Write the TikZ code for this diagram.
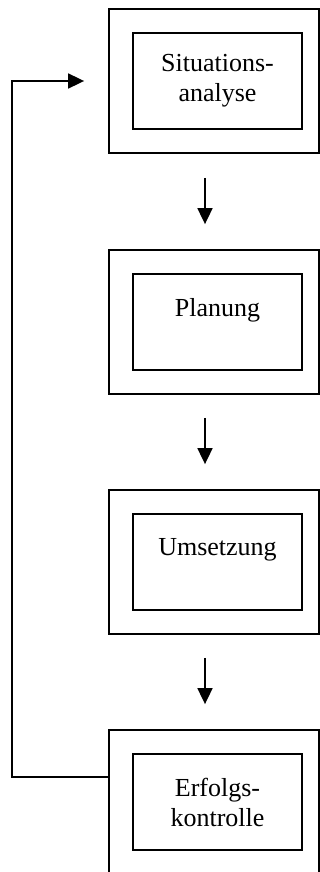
\documentclass[tikz,border=0pt]{standalone}
\usepackage{fontspec}
\setmainfont{Liberation Serif}
\usepackage{tikz}
\usetikzlibrary{
    arrows.meta,
    positioning,
    calc,
}

\begin{document}
\begin{tikzpicture}[
    x=1pt, y=-1pt,
    >={Triangle[length=16pt, width=15pt]},
    outerbox/.style = {rectangle, draw, line width=1.8pt,
                       minimum width=210pt, minimum height=144pt,
                       inner sep=0pt},
    innerbox/.style = {rectangle, draw, line width=1.8pt,
                       minimum width=169pt, minimum height=96pt,
                       inner sep=0pt, align=center,
                       font=\fontsize{26}{30}\selectfont},
    arr/.style      = {->, line width=1.8pt},
]
\useasboundingbox (0,0) rectangle (320,872);

%% ── Outer frames: one column, x = 214 ───────────────────────────────────────
\node[outerbox] (s1) at (214,  81) {};
\node[outerbox] (s2) at (214, 322) {};
\node[outerbox] (s3) at (214, 562) {};
\node[outerbox] (s4) at (214, 802) {};

%% ── Inner boxes with the step names ─────────────────────────────────────────
\node[innerbox] (sit)  at (217.5,  81) {Situations-\\analyse};
\node[innerbox] (plan) at (217.5, 322) {Planung\\\mbox{}};
\node[innerbox] (ums)  at (217.5, 562) {Umsetzung\\\mbox{}};
\node[innerbox] (erf)  at (217.5, 802) {Erfolgs-\\kontrolle};

%% ── Arrows between the steps (straight down) ────────────────────────────────
\draw[arr, shorten <=24pt, shorten >=25pt] ([xshift=-9pt]s1.south) -- ([xshift=-9pt]s2.north);
\draw[arr, shorten <=23pt, shorten >=25pt] ([xshift=-9pt]s2.south) -- ([xshift=-9pt]s3.north);
\draw[arr, shorten <=23pt, shorten >=25pt] ([xshift=-9pt]s3.south) -- ([xshift=-9pt]s4.north);

%% ── Feedback loop (left side) ───────────────────────────────────────────────
\coordinate (fb) at ($([yshift=25pt]s4.west) + (-96,0)$);
\draw[arr, shorten >=24pt] ([yshift=25pt]s4.west) -- (fb) |- (s1.west);

\end{tikzpicture}
\end{document}
